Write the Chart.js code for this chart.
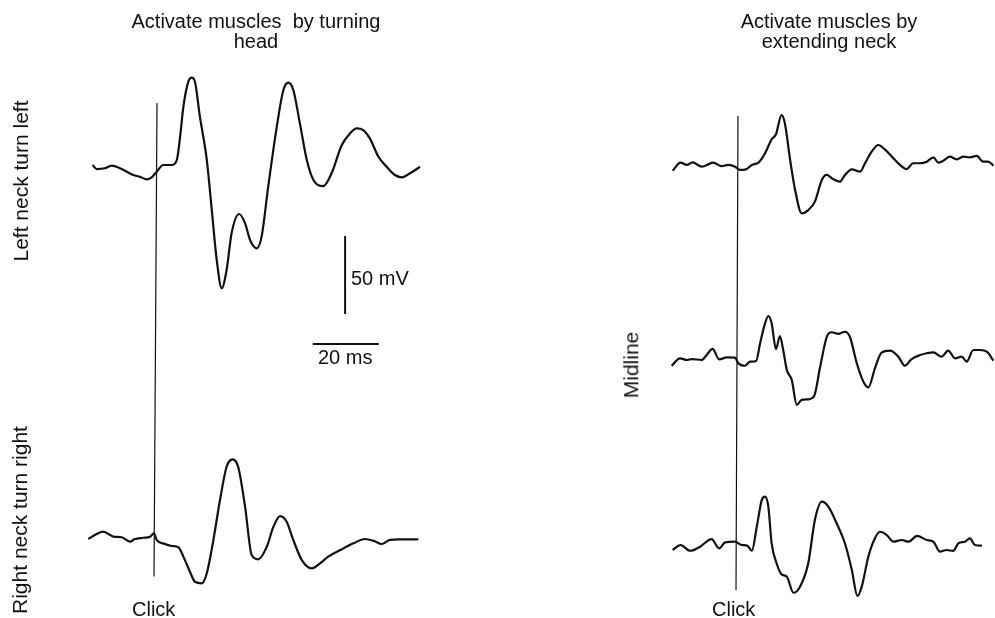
<!DOCTYPE html>
<html>
<head>
<meta charset="utf-8">
<script src="https://cdn.jsdelivr.net/npm/chart.js@4.4.1/dist/chart.umd.min.js"></script>
<style>
  html, body { margin: 0; padding: 0; background: #fff; }
  #wrap { position: relative; width: 995px; height: 618px; overflow: hidden; }
  #c { position: absolute; left: 0; top: 0; }
  .t { position: absolute; font-family: "Liberation Sans", Arial, Helvetica, sans-serif; font-size: 20px; color: #111; white-space: nowrap; line-height: 20px; }
  .title { text-align: center; transform: translateX(-50%); }
  .vl { font-size: 21px; }
</style>
</head>
<body>
<div id="wrap">
  <canvas id="c" width="995" height="618"></canvas>
  <div class="t title" style="left:256px; top:11px;">Activate muscles&nbsp; by turning<br>head</div>
  <div class="t title" style="left:829px; top:11px;">Activate muscles by<br>extending neck</div>
  <div class="t vl" id="lblL" style="left:20px; top:181px;">Left neck turn left</div>
  <div class="t vl" id="lblR" style="left:20px; top:520px;">Right neck turn right</div>
  <div class="t vl" id="lblM" style="left:631px; top:365px;">Midline</div>
  <div class="t" style="left:132px; top:599px;">Click</div>
  <div class="t" style="left:712px; top:599px;">Click</div>
  <div class="t" style="left:351px; top:268px;">50 mV</div>
  <div class="t" style="left:318px; top:347px;">20 ms</div>
</div>
<script>
// ---- Data (time in ms relative to click, amplitude in mV relative to baseline) ----
const leftTurnT = [-19.5,-18.3,-15.8,-13.7,-11.2,-7.2,-5.2,-3.1,-1.6,0.1,1.9,4.5,6.0,7.0,8.0,9.5,10.5,11.5,13.0,15.1,16.6,18.1,19.6,21.1,22.6,24.9,26.7,28.2,30.2,31.7,33.7,36.3,38.3,39.8,41.3,43.3,45.4,47.4,50.4,52.9,56.0,58.5,60.5,62.5,64.5,67.1,69.6,72.1,74.2,76.7,79.7];
const leftTurnV = [3.2,0.6,1.1,2.8,1.1,-3.2,-4.3,-6.0,-4.7,-0.6,3.2,3.2,6.4,21.3,40.6,56.6,59.2,56.6,34.2,6.4,-25.6,-57.7,-75.8,-64.1,-40.6,-28.2,-34.2,-44.9,-50.2,-42.7,-10.7,27.8,51.3,56.0,51.3,29.9,6.4,-6.4,-10.3,-2.1,16.0,23.5,26.7,25.6,20.3,8.5,2.1,-3.2,-4.7,-2.1,2.1];

const rightTurnT = [-19.9,-17.9,-15.4,-12.3,-9.8,-7.3,-5.8,-3.2,-1.2,0,0.8,3.3,5.4,7.4,8.9,10.9,12.4,14.5,16.0,18.0,20.0,22.0,23.8,25.5,27.6,29.6,31.6,34.2,36.2,38.2,40.2,42.2,44.8,47.8,50.3,52.8,56.4,60.4,63.9,66.5,69.0,71.5,74.5,80.1];
const rightTurnV = [0,2.6,4.7,1.5,1.1,-1.7,0,0.8,1.5,3.7,-0.6,-3.2,-4.5,-5.3,-11.3,-21.0,-27.4,-28.4,-22.0,-0.6,25.0,46.3,51.1,46.3,20.7,-10.3,-13.0,-4.9,7.9,14.7,11.1,-0.6,-13.5,-18.8,-15.6,-11.3,-7.1,-2.8,0,-1.1,-3.2,-0.6,-0.2,-0.2];

const extendTopT = [-19.8,-17.4,-15.5,-13.8,-11.0,-7.5,-5.0,-2.9,-0.9,0.6,2.4,4.2,6.2,8.2,10.2,11.5,13.2,14.2,15.8,17.3,19.3,21.3,23.3,25.4,26.9,28.9,30.9,32.4,34.5,37.0,38.5,40.5,42.5,44.5,47.1,49.1,51.1,53.1,55.2,57.2,59.2,60.7,62.2,64.2,66.3,68.3,70.3,72.3,74.3,75.8,77.4];
const extendTopV = [-2.4,2.8,1.3,3.0,0.2,2.8,0.6,1.3,0.2,-1.9,-1.5,1.3,2.8,8.8,17.8,21.0,33.3,28.0,4.5,-14.7,-29.7,-27.6,-22.2,-8.3,-5.1,-7.9,-9.4,-5.1,-1.5,-3.0,2.4,9.8,14.1,11.3,5.6,1.3,-1.3,2.4,2.4,3.4,6.2,2.8,4.0,6.6,4.9,6.6,6.2,7.1,3.4,3.4,0.8];

const midlineT = [-19.8,-17.3,-15.2,-13.7,-10.7,-9.2,-7.4,-5.4,-3.1,-0.6,0.4,2.4,3.9,5.8,7.0,8.5,9.5,10.5,11.8,13.0,14.0,15.1,16.6,18.1,19.6,21.6,23.3,25.2,27.2,28.7,30.7,32.7,34.2,36.3,38.3,39.8,41.8,43.8,46.4,48.9,50.9,52.9,55.5,57.5,59.5,62.0,64.0,66.1,68.1,69.6,71.6,73.6,75.7,77.7];
const midlineV = [-3.8,1.1,0,0.6,0,3.2,7.1,0.4,1.7,1.5,-2.1,-3.7,-1.1,-0.6,10.7,23.5,28.2,23.5,6.9,15.4,6.4,-6.4,-12.8,-28.8,-25.6,-25.2,-23.5,-4.3,14.9,17.8,16.7,18.1,14.9,-2.1,-13.9,-17.5,-5.3,4.7,6.0,2.1,-3.7,0.6,3.2,4.3,4.9,2.1,6.0,1.1,2.1,-1.1,6.4,6.4,5.3,-0.4];

const extendBotT = [-19.2,-16.8,-13.9,-10.9,-7.4,-5.1,-3.3,-0.3,1.7,3.4,4.8,6.3,7.8,8.8,9.8,10.8,12.3,13.8,15.4,17.4,19.4,21.9,23.9,26.0,28.0,30.5,33.0,35.1,36.8,38.1,40.1,42.1,43.6,45.7,47.7,50.2,52.2,54.9,57.8,59.8,61.8,63.8,65.8,67.4,69.4,70.9,72.4,74.5];
const extendBotV = [-3.2,0,-3.7,-1.1,3.8,-2.1,1.7,2.1,0,-0.4,-3.7,11.7,28.8,31.0,24.6,1.1,-11.7,-18.8,-20.3,-30.6,-26.7,-11.7,16.0,27.8,24.6,13.9,1.1,-16.0,-32.7,-26.7,-7.5,4.3,8.5,6.4,2.1,3.2,2.1,5.8,3.2,2.1,-4.3,-3.2,-3.8,1.1,2.1,4.3,0,-0.4];

// Click marker extents (mV on the top trace axis / bottom trace axis of each column)
const clickLeftExtent = [43, -24];
const clickRightExtent = [32.7, -28.8];

// Calibration bars: 50 mV and 20 ms
const calVoltT = [57.0, 57.0];
const calVoltV = [-42.3, -92.3];
const calTimeT = [47.2, 67.2];
const calTimeV = [-111.5, -111.5];

// ---- Layout (pixel frame of each trace: zero time / baseline position) ----
const W = 995, H = 618;
const PX_PER_MS = 3.3, PX_PER_MV = 1.56;
const frames = {
  1: [157, 170], 2: [154, 539], 3: [738, 167], 4: [737, 360], 5: [736, 545]
};

function zip(t, v) { return t.map((x, i) => ({ x: x, y: v[i] })); }

const scales = {};
for (const k of Object.keys(frames)) {
  const [x0, y0] = frames[k];
  scales['x' + k] = { type: 'linear', display: false, min: -x0 / PX_PER_MS, max: (W - x0) / PX_PER_MS };
  scales['y' + k] = { type: 'linear', display: false, min: (y0 - H) / PX_PER_MV, max: y0 / PX_PER_MV };
}

function trace(t, v, k) {
  return {
    data: zip(t, v), xAxisID: 'x' + k, yAxisID: 'y' + k,
    borderColor: '#111', borderWidth: 2.2, pointRadius: 0,
    cubicInterpolationMode: 'monotone', fill: false, clip: false
  };
}
function bar(t, v) {
  return {
    data: zip(t, v), xAxisID: 'x1', yAxisID: 'y1',
    borderColor: '#111', borderWidth: 2, pointRadius: 0, tension: 0, fill: false, clip: false
  };
}

const clickPlugin = {
  id: 'clickLines',
  afterDatasetsDraw(chart) {
    const s = chart.scales, ctx = chart.ctx;
    ctx.save();
    ctx.strokeStyle = '#111';
    ctx.lineWidth = 1.2;
    ctx.beginPath();
    ctx.moveTo(s.x1.getPixelForValue(0), s.y1.getPixelForValue(clickLeftExtent[0]));
    ctx.lineTo(s.x2.getPixelForValue(0), s.y2.getPixelForValue(clickLeftExtent[1]));
    ctx.moveTo(s.x3.getPixelForValue(0), s.y3.getPixelForValue(clickRightExtent[0]));
    ctx.lineTo(s.x5.getPixelForValue(0), s.y5.getPixelForValue(clickRightExtent[1]));
    ctx.stroke();
    ctx.restore();
  }
};

new Chart(document.getElementById('c'), {
  type: 'line',
  data: {
    datasets: [
      trace(leftTurnT, leftTurnV, 1),
      trace(rightTurnT, rightTurnV, 2),
      trace(extendTopT, extendTopV, 3),
      trace(midlineT, midlineV, 4),
      trace(extendBotT, extendBotV, 5),
      bar(calVoltT, calVoltV),
      bar(calTimeT, calTimeV)
    ]
  },
  options: {
    responsive: false,
    animation: false,
    layout: { padding: 0 },
    scales: scales,
    plugins: { legend: { display: false }, tooltip: { enabled: false }, title: { display: false } }
  },
  plugins: [clickPlugin]
});

// rotate vertical labels around their centres
for (const id of ['lblL', 'lblR', 'lblM']) {
  const el = document.getElementById(id);
  const w = el.offsetWidth, h = el.offsetHeight;
  const cx = parseFloat(el.style.left), cy = parseFloat(el.style.top);
  el.style.left = (cx - w / 2) + 'px';
  el.style.top = (cy - h / 2) + 'px';
  el.style.transform = 'rotate(-90deg)';
}
</script>
</body>
</html>
